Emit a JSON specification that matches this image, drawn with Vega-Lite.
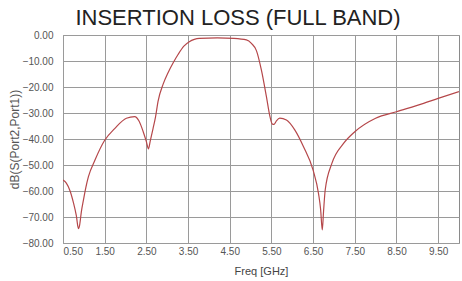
{
  "$schema": "https://vega.github.io/schema/vega-lite/v6.json",
  "width": 396,
  "height": 208,
  "autosize": {"type": "none"},
  "padding": {"left": 63, "top": 35, "right": 3, "bottom": 38},
  "background": "white",
  "config": {
    "font": "Liberation Sans",
    "view": {"stroke": "#8a8a8a", "strokeWidth": 1}
  },
  "title": {
    "text": "INSERTION LOSS (FULL BAND)",
    "fontSize": 22,
    "fontWeight": "normal",
    "color": "#222222",
    "font": "Liberation Sans",
    "anchor": "middle",
    "offset": 0,
    "dx": -23
  },
  "data": {
    "values": [
      {"f": 0.50, "db": -55.8}, {"f": 0.58, "db": -57}, {"f": 0.67, "db": -60},
      {"f": 0.75, "db": -64.5}, {"f": 0.82, "db": -69.5}, {"f": 0.87, "db": -74.5},
      {"f": 0.90, "db": -73}, {"f": 0.94, "db": -68}, {"f": 0.99, "db": -63.5},
      {"f": 1.05, "db": -58.5}, {"f": 1.11, "db": -54.5}, {"f": 1.27, "db": -48},
      {"f": 1.50, "db": -40.5}, {"f": 1.74, "db": -36}, {"f": 2.02, "db": -32},
      {"f": 2.22, "db": -31.4}, {"f": 2.32, "db": -33}, {"f": 2.42, "db": -37},
      {"f": 2.50, "db": -41}, {"f": 2.55, "db": -43.8}, {"f": 2.59, "db": -41},
      {"f": 2.66, "db": -36}, {"f": 2.72, "db": -31.5}, {"f": 2.78, "db": -25.5},
      {"f": 2.90, "db": -19}, {"f": 3.02, "db": -14.5}, {"f": 3.15, "db": -10.5},
      {"f": 3.26, "db": -7.5}, {"f": 3.40, "db": -4.3}, {"f": 3.53, "db": -2.6},
      {"f": 3.65, "db": -1.7}, {"f": 3.77, "db": -1.3}, {"f": 4.20, "db": -1.1},
      {"f": 4.60, "db": -1.3}, {"f": 4.90, "db": -1.9}, {"f": 5.02, "db": -3.2},
      {"f": 5.14, "db": -6}, {"f": 5.26, "db": -13.5}, {"f": 5.38, "db": -23.7},
      {"f": 5.46, "db": -31}, {"f": 5.52, "db": -34.2}, {"f": 5.56, "db": -34.4},
      {"f": 5.62, "db": -33}, {"f": 5.70, "db": -32}, {"f": 5.86, "db": -32.7},
      {"f": 6.06, "db": -36.5}, {"f": 6.27, "db": -43}, {"f": 6.50, "db": -52},
      {"f": 6.63, "db": -61}, {"f": 6.68, "db": -67}, {"f": 6.72, "db": -75},
      {"f": 6.75, "db": -68}, {"f": 6.79, "db": -59.6}, {"f": 6.95, "db": -49.4},
      {"f": 7.23, "db": -41.7}, {"f": 7.50, "db": -37.2}, {"f": 8.00, "db": -32},
      {"f": 8.50, "db": -29.5}, {"f": 9.15, "db": -26.3}, {"f": 9.50, "db": -24.4},
      {"f": 10.00, "db": -21.8}
    ]
  },
  "mark": {"type": "line", "color": "#b5474a", "strokeWidth": 1.2, "interpolate": "monotone", "clip": true},
  "encoding": {
    "x": {
      "field": "f",
      "type": "quantitative",
      "title": "Freq [GHz]",
      "scale": {"domain": [0.5, 10], "nice": false, "zero": false},
      "axis": {
        "values": [0.5, 1.5, 2.5, 3.5, 4.5, 5.5, 6.5, 7.5, 8.5, 9.5],
        "format": ".2f",
        "grid": true,
        "gridColor": "#9a9a9a",
        "gridOpacity": 1,
        "domain": false,
        "ticks": false,
        "labelFontSize": 10,
        "labelColor": "#555555",
        "labelPadding": 3,
        "titleFontSize": 11,
        "titleFontWeight": "normal",
        "titleColor": "#444444",
        "titlePadding": 9
      }
    },
    "y": {
      "field": "db",
      "type": "quantitative",
      "title": "dB(S(Port2,Port1))",
      "scale": {"domain": [-80, 0], "nice": false},
      "axis": {
        "values": [0, -10, -20, -30, -40, -50, -60, -70, -80],
        "format": ".2f",
        "grid": true,
        "gridColor": "#9a9a9a",
        "gridOpacity": 1,
        "domain": false,
        "ticks": false,
        "labelFontSize": 10,
        "labelColor": "#555555",
        "labelPadding": 10,
        "titleFontSize": 12,
        "titleFontWeight": "normal",
        "titleColor": "#555555",
        "titlePadding": 1
      }
    }
  }
}
